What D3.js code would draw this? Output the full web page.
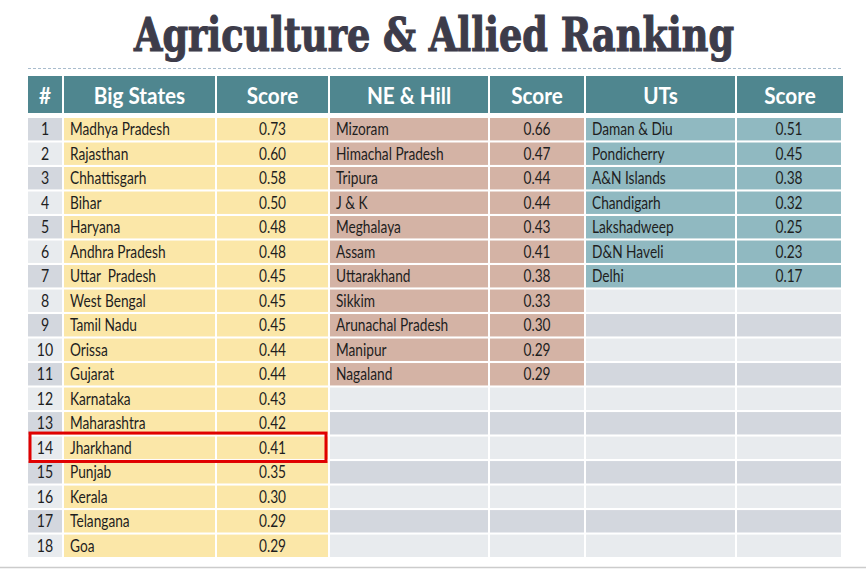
<!DOCTYPE html>
<html><head><meta charset="utf-8">
<script src="https://cdn.jsdelivr.net/npm/d3@7"></script>
<style>html,body{margin:0;padding:0;background:#fff;}svg{display:block;}</style>
</head><body>
<svg id="chart" width="866" height="569"></svg>
<script>
const title = "Agriculture & Allied Ranking";
const headers = ["#", "Big States", "Score", "NE & Hill", "Score", "UTs", "Score"];
const ranks = d3.range(1, 19);
const bigStates = ["Madhya Pradesh","Rajasthan","Chhattisgarh","Bihar","Haryana","Andhra Pradesh","Uttar  Pradesh","West Bengal","Tamil Nadu","Orissa","Gujarat","Karnataka","Maharashtra","Jharkhand","Punjab","Kerala","Telangana","Goa"];
const bigScores = [0.73,0.60,0.58,0.50,0.48,0.48,0.45,0.45,0.45,0.44,0.44,0.43,0.42,0.41,0.35,0.30,0.29,0.29];
const neStates = ["Mizoram","Himachal Pradesh","Tripura","J & K","Meghalaya","Assam","Uttarakhand","Sikkim","Arunachal Pradesh","Manipur","Nagaland"];
const neScores = [0.66,0.47,0.44,0.44,0.43,0.41,0.38,0.33,0.30,0.29,0.29];
const uts = ["Daman & Diu","Pondicherry","A&N Islands","Chandigarh","Lakshadweep","D&N Haveli","Delhi"];
const utScores = [0.51,0.45,0.38,0.32,0.25,0.23,0.17];
const highlightState = "Jharkhand";

const svg = d3.select("#chart");
const FONT = "Lato, 'Open Sans', sans-serif";
const SX = 0.83; // horizontal squeeze of body text

// layout
const colEdges = [28, 64, 217, 330, 490, 586, 737, 843];
const x0 = i => colEdges[i];
const cw = i => colEdges[i+1] - colEdges[i] - 2;
const y = d3.scaleBand().domain(d3.range(18)).range([118, 557]).paddingInner(0.085);

// title
svg.append("text").attr("x", 434).attr("y", 51).attr("text-anchor", "middle")
  .attr("font-family", "'DejaVu Serif Condensed', 'DejaVu Serif', serif").attr("font-weight", "bold")
  .attr("font-stretch", "condensed")
  .attr("font-size", 46).attr("fill", "#3d3c4a").attr("stroke", "#3d3c4a").attr("stroke-width", 1.1)
  .attr("textLength", 600).attr("lengthAdjust", "spacingAndGlyphs")
  .text(title);

svg.append("line").attr("x1", 28).attr("x2", 843).attr("y1", 68.5).attr("y2", 68.5)
  .attr("stroke", "#a9bccd").attr("stroke-width", 1).attr("stroke-dasharray", "3,2");

// header
const hdr = svg.append("g");
headers.forEach((h, i) => {
  const w = cw(i) + (i === 6 ? 2 : 0);
  hdr.append("rect").attr("x", x0(i)).attr("y", 76).attr("width", w).attr("height", 37)
    .attr("fill", "#4f868f");
  hdr.append("text").attr("transform", `translate(${x0(i) + w / 2},104) scale(0.9,1)`)
    .attr("text-anchor", "middle").attr("font-family", FONT).attr("font-weight", "bold")
    .attr("font-size", 23).attr("fill", "#ffffff").text(h);
});

// body
const groups = [
  {names: bigStates, scores: bigScores, col: 1, fill: "#fbe7a8"},
  {names: neStates, scores: neScores, col: 3, fill: "#d4b3a5"},
  {names: uts, scores: utScores, col: 5, fill: "#90b9c1"}
];
const emptyFill = r => r % 2 === 0 ? "#d3d7de" : "#e8ebee";
const ty = i => y(i) + y.bandwidth() / 2 + 6;

const body = svg.append("g");
// rank column
body.selectAll("rect.rank").data(ranks).join("rect")
  .attr("x", x0(0)).attr("y", (d, i) => y(i)).attr("width", cw(0)).attr("height", y.bandwidth())
  .attr("fill", (d, i) => emptyFill(i));
body.selectAll("text.rank").data(ranks).join("text")
  .attr("transform", (d, i) => `translate(${x0(0) + cw(0) / 2},${ty(i)}) scale(${SX},1)`)
  .attr("text-anchor", "middle").attr("font-family", FONT).attr("font-size", 17).attr("fill", "#1e1e1e")
  .text(d => d);

groups.forEach(g => {
  const rows = d3.range(18);
  [g.col, g.col + 1].forEach(c => {
    body.append("g").selectAll("rect").data(rows).join("rect")
      .attr("x", x0(c)).attr("y", r => y(r)).attr("width", cw(c)).attr("height", y.bandwidth())
      .attr("fill", r => r < g.names.length ? g.fill : emptyFill(r));
  });
  body.append("g").selectAll("text").data(g.names).join("text")
    .attr("transform", (d, i) => `translate(${x0(g.col) + 6},${ty(i)}) scale(${SX},1)`)
    .attr("font-family", FONT).attr("font-size", 16.5).attr("fill", "#1e1e1e")
    .attr("xml:space", "preserve").text(d => d);
  body.append("g").selectAll("text").data(g.scores).join("text")
    .attr("transform", (d, i) => `translate(${x0(g.col + 1) + cw(g.col + 1) / 2},${ty(i)}) scale(${SX},1)`)
    .attr("text-anchor", "middle").attr("font-family", FONT).attr("font-size", 16.5).attr("fill", "#1e1e1e")
    .text(d => d3.format(".2f")(d));
});

// highlight box
const hi = bigStates.indexOf(highlightState);
svg.append("rect").attr("x", 30).attr("y", y(hi) - 3.5).attr("width", 296).attr("height", y.bandwidth() + 6)
  .attr("fill", "none").attr("stroke", "#e00000").attr("stroke-width", 3);

// bottom rule
svg.append("line").attr("x1", 0).attr("x2", 866).attr("y1", 567.5).attr("y2", 567.5)
  .attr("stroke", "#cccccc").attr("stroke-width", 1.5);
</script>
</body></html>
